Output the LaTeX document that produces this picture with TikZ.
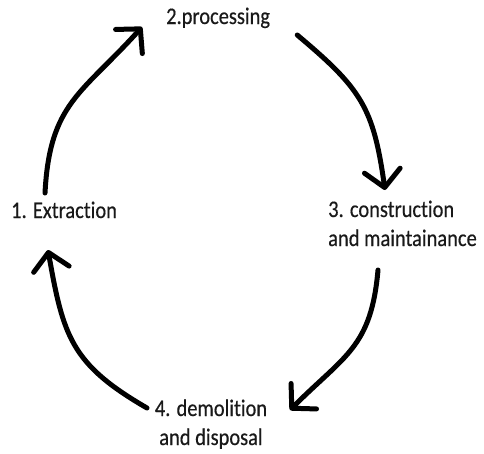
\documentclass[tikz,border=0pt]{standalone}
\usepackage{fontspec}
\setmainfont{Carlito}[FakeStretch=0.86,FakeBold=0.4,Ligatures=NoCommon]
\usetikzlibrary{arrows.meta}
\tikzset{
  flow/.style={line width=5pt, line cap=round, black, looseness=1.2,
    -{Straight Barb[length=17pt,width=36pt,round]}},
  stage/.style={inner sep=0pt, font=\fontsize{23.8}{29}\selectfont, text=black!90}
}
\begin{document}
\begin{tikzpicture}[x=1pt,y=1pt]
  \useasboundingbox (0,0) rectangle (484,-453);
  % the four stages
  \node[stage,anchor=base west] (ext) at (11,-218) {1. Extraction};
  \node[stage,anchor=base west] (proc) at (166,-24) {2.processing};
  \node[stage,anchor=base west,align=left] (cons) at (328,-246) {3. construction\\and maintainance};
  \node[stage,anchor=base,align=center] (dem) at (211,-445) {4. demolition\\and disposal};
  % the cycle
  \draw[flow] ([xshift=34pt,yshift=25pt]ext.base west) to[out=87,in=228] ([xshift=-24pt,yshift=-3pt]proc.base west);
  \draw[flow] ([xshift=27pt,yshift=-11pt]proc.base east) to[out=-40,in=98] ([xshift=57pt,yshift=56pt]cons.base west);
  \draw[flow] ([xshift=50pt,yshift=-24pt]cons.base west) to[out=-95,in=45] ([xshift=79pt,yshift=35pt]dem.base);
  \draw[flow] ([xshift=-64pt,yshift=37pt]dem.base) to[out=150,in=-80] ([xshift=37pt,yshift=-32pt]ext.base west);
\end{tikzpicture}
\end{document}
